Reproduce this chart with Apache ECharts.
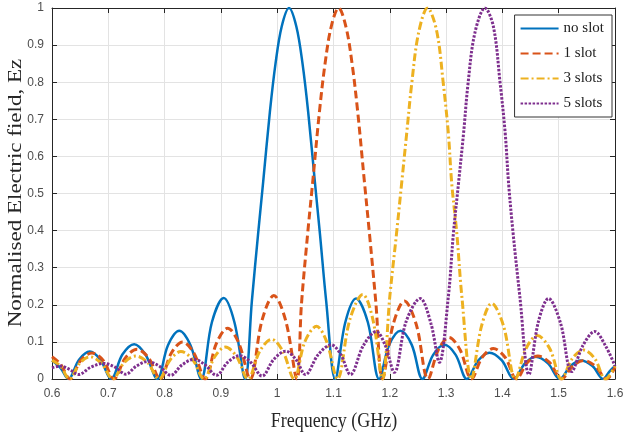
<!DOCTYPE html>
<html>
<head>
<meta charset="utf-8">
<script src="https://cdn.jsdelivr.net/npm/echarts@6/dist/echarts.min.js"></script>
<style>html,body{margin:0;padding:0;background:#fff}#c{width:626px;height:437px}</style>
</head>
<body>
<div id="c"></div>
<script>
const seriesNames = ["no slot", "1 slot", "3 slots", "5 slots"];
const xTicks = [0.6, 0.7, 0.8, 0.9, 1.0, 1.1, 1.2, 1.3, 1.4, 1.5, 1.6];
const yTicks = [0, 0.1, 0.2, 0.3, 0.4, 0.5, 0.6, 0.7, 0.8, 0.9, 1];
const xTitle = "Frequency (GHz)";
const yTitle = "Normalised Electric field, Ez";

const noSlotX = [0.6, 0.615, 0.629, 0.648, 0.667, 0.686, 0.705, 0.725, 0.746, 0.766, 0.787, 0.806, 0.826, 0.846, 0.865, 0.884, 0.905, 0.924, 0.943,
  0.955, 0.966, 0.975, 0.987, 0.997, 1.008, 1.021, 1.034, 1.045, 1.055, 1.067, 1.076, 1.087, 1.103,
  1.121, 1.14, 1.161, 1.181, 1.199, 1.219, 1.239, 1.258, 1.277, 1.297, 1.317, 1.337, 1.357, 1.377, 1.399, 1.42, 1.44, 1.459, 1.481, 1.502, 1.521, 1.539, 1.56, 1.579, 1.59, 1.6];
const noSlotY = [0.05, 0.03, 0, 0.052, 0.074, 0.052, 0, 0.066, 0.094, 0.066, 0, 0.091, 0.13, 0.091, 0, 0.153, 0.218, 0.153, 0,
  0.21, 0.39, 0.53, 0.72, 0.85, 0.95, 1.0, 0.95, 0.85, 0.72, 0.53, 0.39, 0.21, 0,
  0.153, 0.217, 0.153, 0, 0.092, 0.13, 0.092, 0, 0.065, 0.092, 0.065, 0, 0.05, 0.071, 0.05, 0, 0.042, 0.06, 0.042, 0, 0.035, 0.05, 0.035, 0, 0.02, 0.035];

const oneSlotX = [0.6, 0.615, 0.632, 0.651, 0.671, 0.691, 0.71, 0.73, 0.751, 0.772, 0.792, 0.812, 0.832, 0.852, 0.872, 0.892, 0.912, 0.932, 0.952, 0.973, 0.994, 1.015, 1.035,
  1.043, 1.054, 1.063, 1.075, 1.085, 1.096, 1.109, 1.122, 1.133, 1.143, 1.155, 1.164, 1.175, 1.187,
  1.206, 1.226, 1.247, 1.268, 1.286, 1.305, 1.325, 1.345, 1.364, 1.384, 1.405, 1.425, 1.444, 1.463, 1.484, 1.505, 1.525, 1.544, 1.565, 1.585, 1.6];
const oneSlotY = [0.06, 0.04, 0, 0.05, 0.07, 0.05, 0, 0.056, 0.08, 0.056, 0, 0.07, 0.10, 0.07, 0, 0.096, 0.137, 0.096, 0, 0.158, 0.225, 0.158, 0,
  0.2, 0.39, 0.53, 0.72, 0.85, 0.95, 1.0, 0.95, 0.85, 0.72, 0.53, 0.39, 0.21, 0,
  0.147, 0.21, 0.147, 0, 0.078, 0.112, 0.078, 0, 0.058, 0.082, 0.058, 0, 0.044, 0.062, 0.044, 0, 0.035, 0.05, 0.035, 0, 0.032];

const threeSlotX = [0.6, 0.615, 0.631, 0.649, 0.667, 0.688, 0.708, 0.728, 0.749, 0.77, 0.79, 0.81, 0.829, 0.85, 0.87, 0.889, 0.908, 0.928, 0.948, 0.969, 0.99, 1.01, 1.03, 1.049, 1.07, 1.088, 1.107, 1.129, 1.152, 1.17, 1.187,
  1.2, 1.212, 1.221, 1.23, 1.239, 1.251, 1.267, 1.283, 1.295, 1.304, 1.31, 1.319, 1.328, 1.345,
  1.363, 1.381, 1.402, 1.423, 1.442, 1.462, 1.484, 1.505, 1.524, 1.544, 1.564, 1.583, 1.6];
const threeSlotY = [0.05, 0.035, 0, 0.042, 0.06, 0.042, 0, 0.044, 0.062, 0.044, 0, 0.052, 0.074, 0.052, 0, 0.06, 0.086, 0.06, 0, 0.075, 0.107, 0.075, 0, 0.1, 0.142, 0.1, 0, 0.16, 0.228, 0.16, 0,
  0.222, 0.393, 0.527, 0.662, 0.797, 0.932, 1.0, 0.94, 0.797, 0.662, 0.527, 0.393, 0.222, 0,
  0.143, 0.204, 0.143, 0, 0.082, 0.117, 0.082, 0, 0.055, 0.078, 0.055, 0, 0.035];

const fiveSlotX = [0.6, 0.614, 0.631, 0.647, 0.669, 0.692, 0.712, 0.731, 0.75, 0.77, 0.79, 0.811, 0.831, 0.852, 0.872, 0.892, 0.912, 0.933, 0.953, 0.973, 0.994, 1.015, 1.033, 1.05, 1.073, 1.096, 1.113, 1.13, 1.153, 1.176, 1.192, 1.208, 1.229, 1.254, 1.273, 1.288,
  1.304, 1.313, 1.322, 1.331, 1.339, 1.351, 1.369, 1.384, 1.396, 1.405, 1.411, 1.419, 1.431, 1.447,
  1.464, 1.482, 1.503, 1.523, 1.543, 1.564, 1.583, 1.6];
const fiveSlotY = [0.03, 0.035, 0.026, 0.012, 0.032, 0.042, 0.032, 0.013, 0.035, 0.047, 0.035, 0.01, 0.038, 0.053, 0.038, 0.01, 0.045, 0.063, 0.045, 0.008, 0.053, 0.075, 0.053, 0.012, 0.066, 0.092, 0.066, 0.012, 0.09, 0.128, 0.09, 0.018, 0.155, 0.217, 0.15, 0.045,
  0.222, 0.393, 0.527, 0.662, 0.797, 0.932, 1.0, 0.95, 0.797, 0.662, 0.527, 0.393, 0.222, 0.012,
  0.155, 0.217, 0.152, 0.02, 0.09, 0.128, 0.09, 0.035];

const colors = ["#0072BD", "#D95319", "#EDB120", "#7E2F8E"];
const lineTypes = ["solid", [8, 4], [8, 3, 2, 3], [2.5, 1.5]];
const lineWidths = [2.5, 3, 3, 3];
const xs = [noSlotX, oneSlotX, threeSlotX, fiveSlotX];
const ys = [noSlotY, oneSlotY, threeSlotY, fiveSlotY];

const chart = echarts.init(document.getElementById('c'), null, {renderer: 'canvas'});
const axisColor = '#262626';
const gridColor = '#e3e3e3';
const labelFont = {fontFamily: 'Liberation Sans, Arial, sans-serif', fontSize: 12, color: '#4d4d4d'};
const serifFont = '18px "Liberation Serif", "Times New Roman", serif';

const series = seriesNames.map((name, k) => ({
  name: name,
  type: 'line',
  xAxisIndex: 0,
  yAxisIndex: 0,
  showSymbol: false,
  symbol: 'none',
  smooth: 0.35,
  data: xs[k].map((v, i) => [v, ys[k][i]]),
  lineStyle: {color: colors[k], width: lineWidths[k], type: lineTypes[k], cap: 'butt'},
  itemStyle: {color: colors[k]},
  z: 2 + k
}));

chart.setOption({
  animation: false,
  backgroundColor: '#fff',
  color: colors,
  grid: {left: 52, right: 11, top: 8, bottom: 58, containLabel: false, outerBoundsMode: 'none'},
  legend: {
    show: true,
    orient: 'vertical',
    right: 14, top: 15,
    padding: [6, 8, 6, 5],
    itemWidth: 38, itemHeight: 14, itemGap: 10,
    backgroundColor: '#fff',
    borderColor: '#333', borderWidth: 1,
    borderRadius: 0,
    itemStyle: {color: 'rgba(0,0,0,0)', borderWidth: 0, opacity: 0},
    textStyle: {fontFamily: 'Liberation Serif, Times New Roman, serif', fontSize: 15, color: '#222'},
    data: seriesNames,
    z: 20
  },
  graphic: [{
    type: 'text',
    x: 334, y: 422,
    scaleY: 1.12,
    z: 30,
    style: {text: xTitle, font: serifFont, fill: '#262626', textAlign: 'center', textVerticalAlign: 'middle'}
  }, {
    type: 'text',
    x: 16, y: 193,
    rotation: Math.PI / 2,
    scaleX: 1.28,
    z: 30,
    style: {text: yTitle, font: serifFont, fill: '#262626', textAlign: 'center', textVerticalAlign: 'middle'}
  }],
  xAxis: [{
    type: 'value', min: 0.6, max: 1.6, interval: 0.1,
    axisLine: {show: true, lineStyle: {color: axisColor, width: 1}},
    axisTick: {show: true, inside: true, length: 5, lineStyle: {color: axisColor}},
    axisLabel: Object.assign({margin: 9, formatter: v => String(Math.round(v * 10) / 10)}, labelFont),
    splitLine: {show: true, lineStyle: {color: gridColor, width: 1}}
  }, {
    type: 'value', position: 'top', min: 0.6, max: 1.6, interval: 0.1,
    axisLine: {show: true, onZero: false, lineStyle: {color: axisColor, width: 1}},
    axisTick: {show: true, inside: true, length: 5, lineStyle: {color: axisColor}},
    axisLabel: {show: false}, splitLine: {show: false}
  }],
  yAxis: [{
    type: 'value', min: 0, max: 1, interval: 0.1,
    axisLine: {show: true, lineStyle: {color: axisColor, width: 1}},
    axisTick: {show: true, inside: true, length: 5, lineStyle: {color: axisColor}},
    axisLabel: Object.assign({margin: 8, formatter: v => String(Math.round(v * 10) / 10)}, labelFont),
    splitLine: {show: true, lineStyle: {color: gridColor, width: 1}}
  }, {
    type: 'value', position: 'right', min: 0, max: 1, interval: 0.1,
    axisLine: {show: true, onZero: false, lineStyle: {color: axisColor, width: 1}},
    axisTick: {show: true, inside: true, length: 5, lineStyle: {color: axisColor}},
    axisLabel: {show: false}, splitLine: {show: false}
  }],
  series: series
});
</script>
</body>
</html>
